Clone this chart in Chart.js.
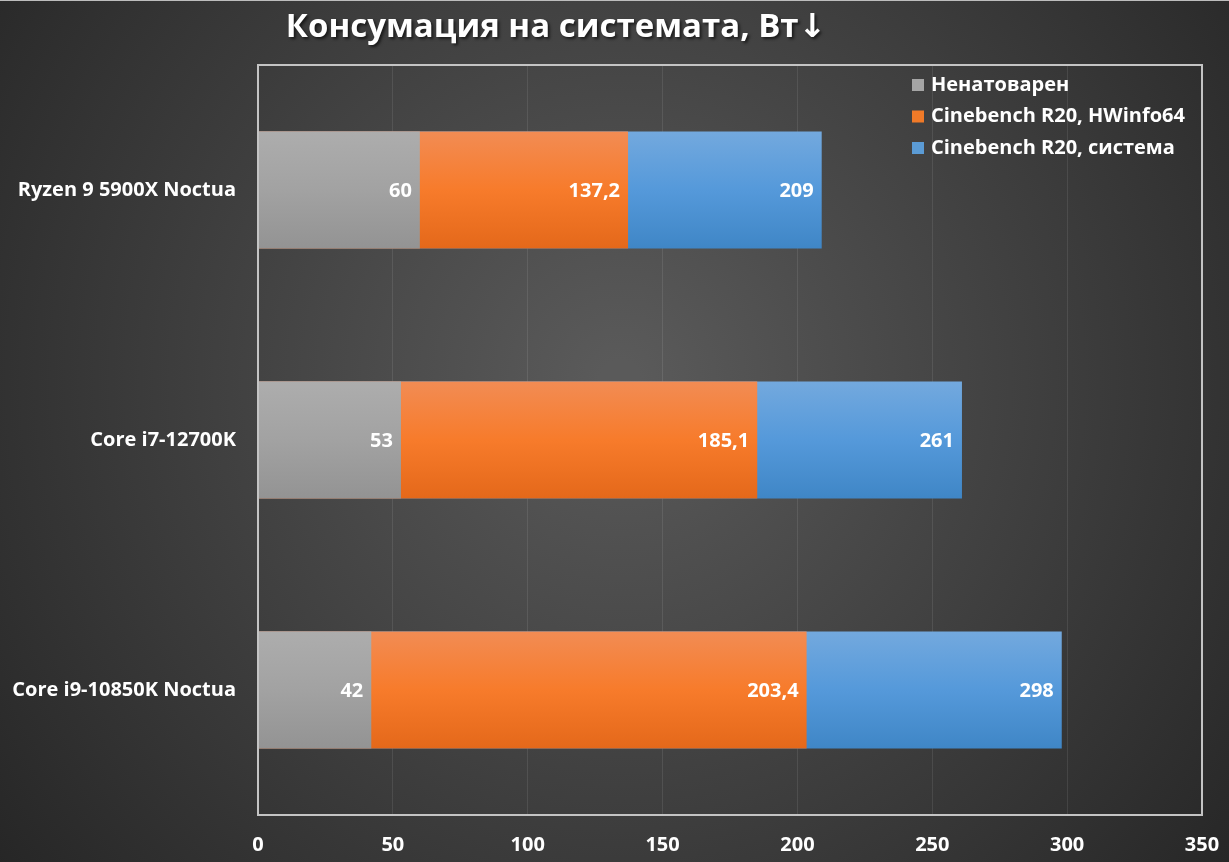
<!DOCTYPE html>
<html>
<head>
<meta charset="utf-8">
<script src="https://cdn.jsdelivr.net/npm/chart.js@4"></script>
<style>
  html, body { margin: 0; padding: 0; background: #2a2a2a; }
  #wrap { width: 1229px; height: 862px; }
</style>
</head>
<body>
<div id="wrap"><canvas id="chart"></canvas></div>
<script>
const categories = ['Ryzen 9 5900X Noctua', 'Core i7-12700K', 'Core i9-10850K Noctua'];
const idle = [60, 53, 42];
const hwinfo = [137.2, 185.1, 203.4];
const system = [209, 261, 298];
const xTicks = [0, 50, 100, 150, 200, 250, 300, 350];
const title = 'Консумация на системата, Вт↓';

const FONT = "'Open Sans', 'DejaVu Sans', sans-serif";

// vertical gradient for each bar, lighter on top
function barGradient(top, mid, bottom) {
    return (ctx) => {
        const chart = ctx.chart;
        const y = chart.scales.y;
        if (!chart.chartArea || !y || ctx.type !== 'data') return mid;
        const c = y.getPixelForValue(ctx.dataIndex);
        const h = 59;
        const g = chart.ctx.createLinearGradient(0, c - h, 0, c + h);
        g.addColorStop(0, top);
        g.addColorStop(0.5, mid);
        g.addColorStop(1, bottom);
        return g;
    };
}

const legendItems = [
    { label: 'Ненатоварен', color: '#a5a5a5' },
    { label: 'Cinebench R20, HWinfo64', color: '#f07a28' },
    { label: 'Cinebench R20, система', color: '#5b9bd5' }
];

const background = {
    id: 'background',
    beforeDraw(chart) {
        const { ctx, width, height } = chart;
        const g = ctx.createRadialGradient(620, 380, 20, 620, 380, 820);
        g.addColorStop(0, '#5a5a5a');
        g.addColorStop(1, '#242424');
        ctx.save();
        ctx.fillStyle = g;
        ctx.fillRect(0, 0, width, height);
        ctx.fillStyle = '#bdbdbd';
        ctx.fillRect(0, 0, width, 1);
        ctx.restore();
    }
};

const frame = {
    id: 'frame',
    afterDatasetsDraw(chart) {
        const { ctx, chartArea: a } = chart;
        ctx.save();
        ctx.strokeStyle = '#c4c4c4';
        ctx.lineWidth = 2;
        ctx.strokeRect(a.left, a.top, a.right - a.left, a.bottom - a.top);
        ctx.restore();
    }
};

const barLabels = {
    id: 'barLabels',
    afterDatasetsDraw(chart) {
        const ctx = chart.ctx;
        ctx.save();
        ctx.font = 'bold 20px ' + FONT;
        ctx.fillStyle = '#ffffff';
        ctx.textAlign = 'right';
        ctx.textBaseline = 'middle';
        chart.data.datasets.forEach((ds, i) => {
            chart.getDatasetMeta(i).data.forEach((bar, j) => {
                const txt = String(ds.data[j]).replace('.', ',');
                ctx.fillText(txt, bar.x - 8, bar.y + 1);
            });
        });
        ctx.restore();
    }
};

const boxLegend = {
    id: 'boxLegend',
    afterDraw(chart) {
        const ctx = chart.ctx;
        ctx.save();
        ctx.font = 'bold 20px ' + FONT;
        ctx.textBaseline = 'middle';
        ctx.textAlign = 'left';
        legendItems.forEach((it, i) => {
            const y = 85 + i * 31.5;
            ctx.fillStyle = it.color;
            ctx.fillRect(912, y - 6, 12, 12);
            ctx.fillStyle = '#ffffff';
            ctx.fillText(it.label, 931, y);
        });
        ctx.restore();
    }
};

const chartTitle = {
    id: 'chartTitle',
    afterDraw(chart) {
        const ctx = chart.ctx;
        ctx.save();
        ctx.font = 'bold 33px ' + FONT;
        ctx.textAlign = 'center';
        ctx.textBaseline = 'middle';
        ctx.shadowColor = 'rgba(0,0,0,0.6)';
        ctx.shadowOffsetX = 2;
        ctx.shadowOffsetY = 2;
        ctx.shadowBlur = 3;
        ctx.fillStyle = '#ffffff';
        ctx.fillText(title, 556, 28);
        ctx.restore();
    }
};

new Chart(document.getElementById('chart'), {
    type: 'bar',
    data: {
        labels: categories,
        datasets: [
            {
                label: legendItems[0].label,
                data: idle,
                order: 1,
                backgroundColor: barGradient('#adadad', '#a2a2a2', '#939393')
            },
            {
                label: legendItems[1].label,
                data: hwinfo,
                order: 2,
                backgroundColor: barGradient('#f28c54', '#f77b2b', '#e4681a')
            },
            {
                label: legendItems[2].label,
                data: system,
                order: 3,
                backgroundColor: barGradient('#73a9de', '#5599da', '#3f86c6')
            }
        ]
    },
    options: {
        indexAxis: 'y',
        responsive: true,
        maintainAspectRatio: false,
        animation: false,
        devicePixelRatio: 1,
        layout: { padding: { left: 0, right: 27, top: 65, bottom: 0 } },
        datasets: {
            bar: { barPercentage: 0.468, categoryPercentage: 1 }
        },
        scales: {
            x: {
                min: 0,
                max: 350,
                afterBuildTicks(scale) {
                    scale.ticks = xTicks.map(v => ({ value: v }));
                },
                afterFit(scale) {
                    scale.height = 47;
                    scale.paddingLeft = 0;
                    scale.paddingRight = 0;
                },
                grid: { color: 'rgba(255,255,255,0.09)', lineWidth: 1, drawTicks: false },
                border: { display: false },
                ticks: {
                    color: '#ffffff',
                    padding: 18,
                    font: { family: FONT, size: 20, weight: 'bold' }
                }
            },
            y: {
                stacked: true,
                afterFit(scale) { scale.width = 258; },
                grid: { display: false, drawTicks: false },
                border: { display: false },
                ticks: {
                    color: '#ffffff',
                    padding: 22,
                    font: { family: FONT, size: 20, weight: 'bold' }
                }
            }
        },
        plugins: {
            legend: { display: false },
            tooltip: { enabled: false },
            title: { display: false }
        }
    },
    plugins: [background, frame, barLabels, boxLegend, chartTitle]
});
</script>
</body>
</html>
